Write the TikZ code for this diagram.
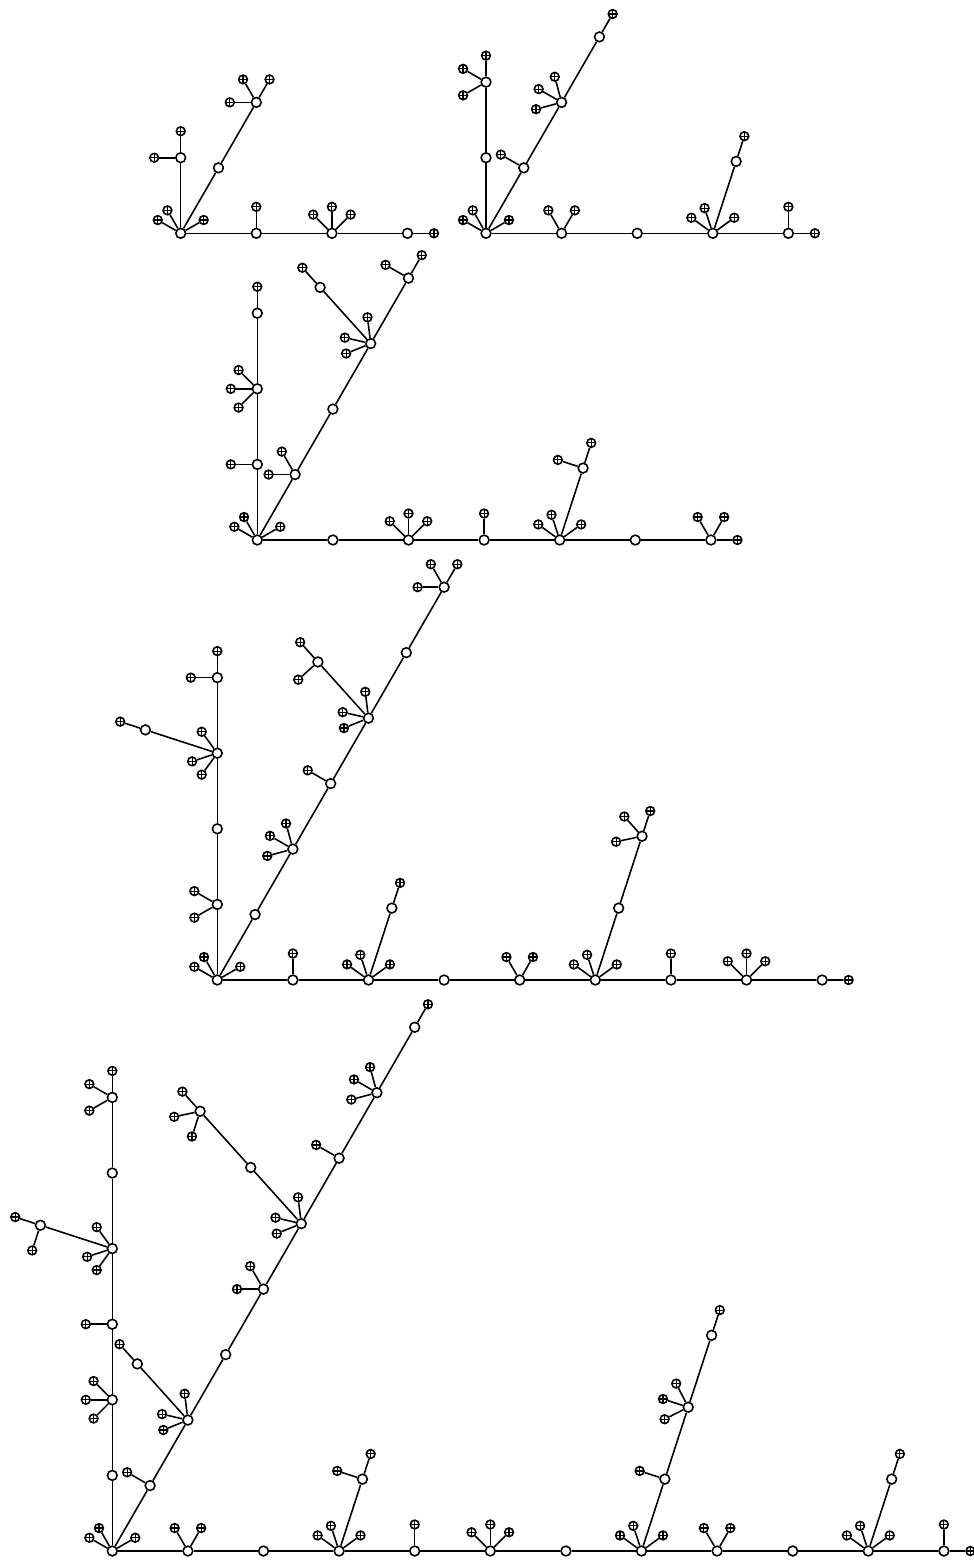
\documentclass[tikz,border=0pt]{standalone}
\usetikzlibrary{calc}
\newcommand{\armlen}{75.6}
\newcommand{\tiplen}{26.5}

\begin{document}
\begin{tikzpicture}[
  x=0.02cm,y=0.02cm,line width=0.9pt,
  knot/.style={circle,draw,fill=white,inner sep=0pt,minimum size=0.195cm},
  tip/.style={circle,draw,fill=white,inner sep=0pt,minimum size=0.175cm,
    path picture={\draw[line width=0.65pt] (path picture bounding box.north) -- (path picture bounding box.south)
      (path picture bounding box.west) -- (path picture bounding box.east);}},
]
\useasboundingbox (0,0) rectangle (974,-1560);

% tree a
\node[knot] (a0) at (180.7,-233.3) {};
\node[knot] (ah1) at ($(a0)+(0:\armlen)$) {} edge (a0);
\node[knot] (ah2) at ($(ah1)+(0:\armlen)$) {} edge (ah1);
\node[knot] (ah3) at ($(ah2)+(0:\armlen)$) {} edge (ah2);
\node[knot] (av1) at ($(a0)+(90:\armlen)$) {} edge (a0);
\node[knot] (ad1) at ($(a0)+(60:\armlen)$) {} edge (a0);
\node[knot] (ad2) at ($(ad1)+(60:\armlen)$) {} edge (ad1);
\foreach \a in {150,120,30} \node[tip] (a0-\a) at ($(a0)+(\a:\tiplen)$) {} edge (a0);
\foreach \a in {90} \node[tip] (ah1-\a) at ($(ah1)+(\a:\tiplen)$) {} edge (ah1);
\foreach \a in {135,90,45} \node[tip] (ah2-\a) at ($(ah2)+(\a:\tiplen)$) {} edge (ah2);
\foreach \a in {0} \node[tip] (ah3-\a) at ($(ah3)+(\a:\tiplen)$) {} edge (ah3);
\foreach \a in {180,90} \node[tip] (av1-\a) at ($(av1)+(\a:\tiplen)$) {} edge (av1);
\foreach \a in {180,120,60} \node[tip] (ad2-\a) at ($(ad2)+(\a:\tiplen)$) {} edge (ad2);

% tree b
\node[knot] (b0) at (486,-233.3) {};
\node[knot] (bh1) at ($(b0)+(0:\armlen)$) {} edge (b0);
\node[knot] (bh2) at ($(bh1)+(0:\armlen)$) {} edge (bh1);
\node[knot] (bh3) at ($(bh2)+(0:\armlen)$) {} edge (bh2);
\node[knot] (bb1) at ($(bh3)+(72:\armlen)$) {} edge (bh3);
\node[knot] (bh4) at ($(bh3)+(0:\armlen)$) {} edge (bh3);
\node[knot] (bv1) at ($(b0)+(90:\armlen)$) {} edge (b0);
\node[knot] (bv2) at ($(bv1)+(90:\armlen)$) {} edge (bv1);
\node[knot] (bd1) at ($(b0)+(60:\armlen)$) {} edge (b0);
\node[knot] (bd2) at ($(bd1)+(60:\armlen)$) {} edge (bd1);
\node[knot] (bd3) at ($(bd2)+(60:\armlen)$) {} edge (bd2);
\foreach \a in {150,120,30} \node[tip] (b0-\a) at ($(b0)+(\a:\tiplen)$) {} edge (b0);
\foreach \a in {120,60} \node[tip] (bh1-\a) at ($(bh1)+(\a:\tiplen)$) {} edge (bh1);
\foreach \a in {144,108,36} \node[tip] (bh3-\a) at ($(bh3)+(\a:\tiplen)$) {} edge (bh3);
\foreach \a in {72} \node[tip] (bb1-\a) at ($(bb1)+(\a:\tiplen)$) {} edge (bb1);
\foreach \a in {90,0} \node[tip] (bh4-\a) at ($(bh4)+(\a:\tiplen)$) {} edge (bh4);
\foreach \a in {210,150,90} \node[tip] (bv2-\a) at ($(bv2)+(\a:\tiplen)$) {} edge (bv2);
\foreach \a in {150} \node[tip] (bd1-\a) at ($(bd1)+(\a:\tiplen)$) {} edge (bd1);
\foreach \a in {195,150,105} \node[tip] (bd2-\a) at ($(bd2)+(\a:\tiplen)$) {} edge (bd2);
\foreach \a in {60} \node[tip] (bd3-\a) at ($(bd3)+(\a:\tiplen)$) {} edge (bd3);

% tree c
\node[knot] (c0) at (257.3,-540) {};
\node[knot] (ch1) at ($(c0)+(0:\armlen)$) {} edge (c0);
\node[knot] (ch2) at ($(ch1)+(0:\armlen)$) {} edge (ch1);
\node[knot] (ch3) at ($(ch2)+(0:\armlen)$) {} edge (ch2);
\node[knot] (ch4) at ($(ch3)+(0:\armlen)$) {} edge (ch3);
\node[knot] (cb1) at ($(ch4)+(72:\armlen)$) {} edge (ch4);
\node[knot] (ch5) at ($(ch4)+(0:\armlen)$) {} edge (ch4);
\node[knot] (ch6) at ($(ch5)+(0:\armlen)$) {} edge (ch5);
\node[knot] (cv1) at ($(c0)+(90:\armlen)$) {} edge (c0);
\node[knot] (cv2) at ($(cv1)+(90:\armlen)$) {} edge (cv1);
\node[knot] (cv3) at ($(cv2)+(90:\armlen)$) {} edge (cv2);
\node[knot] (cd1) at ($(c0)+(60:\armlen)$) {} edge (c0);
\node[knot] (cd2) at ($(cd1)+(60:\armlen)$) {} edge (cd1);
\node[knot] (cd3) at ($(cd2)+(60:\armlen)$) {} edge (cd2);
\node[knot] (ce1) at ($(cd3)+(132:\armlen)$) {} edge (cd3);
\node[knot] (cd4) at ($(cd3)+(60:\armlen)$) {} edge (cd3);
\foreach \a in {150,120,30} \node[tip] (c0-\a) at ($(c0)+(\a:\tiplen)$) {} edge (c0);
\foreach \a in {135,90,45} \node[tip] (ch2-\a) at ($(ch2)+(\a:\tiplen)$) {} edge (ch2);
\foreach \a in {90} \node[tip] (ch3-\a) at ($(ch3)+(\a:\tiplen)$) {} edge (ch3);
\foreach \a in {144,108,36} \node[tip] (ch4-\a) at ($(ch4)+(\a:\tiplen)$) {} edge (ch4);
\foreach \a in {162,72} \node[tip] (cb1-\a) at ($(cb1)+(\a:\tiplen)$) {} edge (cb1);
\foreach \a in {120,60,0} \node[tip] (ch6-\a) at ($(ch6)+(\a:\tiplen)$) {} edge (ch6);
\foreach \a in {180} \node[tip] (cv1-\a) at ($(cv1)+(\a:\tiplen)$) {} edge (cv1);
\foreach \a in {225,180,135} \node[tip] (cv2-\a) at ($(cv2)+(\a:\tiplen)$) {} edge (cv2);
\foreach \a in {90} \node[tip] (cv3-\a) at ($(cv3)+(\a:\tiplen)$) {} edge (cv3);
\foreach \a in {180,120} \node[tip] (cd1-\a) at ($(cd1)+(\a:\tiplen)$) {} edge (cd1);
\foreach \a in {202,167,97} \node[tip] (cd3-\a) at ($(cd3)+(\a:\tiplen)$) {} edge (cd3);
\foreach \a in {132} \node[tip] (ce1-\a) at ($(ce1)+(\a:\tiplen)$) {} edge (ce1);
\foreach \a in {150,60} \node[tip] (cd4-\a) at ($(cd4)+(\a:\tiplen)$) {} edge (cd4);

% tree d
\node[knot] (d0) at (217.3,-980) {};
\node[knot] (dh1) at ($(d0)+(0:\armlen)$) {} edge (d0);
\node[knot] (dh2) at ($(dh1)+(0:\armlen)$) {} edge (dh1);
\node[knot] (db1) at ($(dh2)+(72:\armlen)$) {} edge (dh2);
\node[knot] (dh3) at ($(dh2)+(0:\armlen)$) {} edge (dh2);
\node[knot] (dh4) at ($(dh3)+(0:\armlen)$) {} edge (dh3);
\node[knot] (dh5) at ($(dh4)+(0:\armlen)$) {} edge (dh4);
\node[knot] (de1) at ($(dh5)+(72:\armlen)$) {} edge (dh5);
\node[knot] (de2) at ($(de1)+(72:\armlen)$) {} edge (de1);
\node[knot] (dh6) at ($(dh5)+(0:\armlen)$) {} edge (dh5);
\node[knot] (dh7) at ($(dh6)+(0:\armlen)$) {} edge (dh6);
\node[knot] (dh8) at ($(dh7)+(0:\armlen)$) {} edge (dh7);
\node[knot] (dv1) at ($(d0)+(90:\armlen)$) {} edge (d0);
\node[knot] (dv2) at ($(dv1)+(90:\armlen)$) {} edge (dv1);
\node[knot] (dv3) at ($(dv2)+(90:\armlen)$) {} edge (dv2);
\node[knot] (df1) at ($(dv3)+(162:\armlen)$) {} edge (dv3);
\node[knot] (dv4) at ($(dv3)+(90:\armlen)$) {} edge (dv3);
\node[knot] (dd1) at ($(d0)+(60:\armlen)$) {} edge (d0);
\node[knot] (dd2) at ($(dd1)+(60:\armlen)$) {} edge (dd1);
\node[knot] (dd3) at ($(dd2)+(60:\armlen)$) {} edge (dd2);
\node[knot] (dd4) at ($(dd3)+(60:\armlen)$) {} edge (dd3);
\node[knot] (dg1) at ($(dd4)+(132:\armlen)$) {} edge (dd4);
\node[knot] (dd5) at ($(dd4)+(60:\armlen)$) {} edge (dd4);
\node[knot] (dd6) at ($(dd5)+(60:\armlen)$) {} edge (dd5);
\foreach \a in {150,120,30} \node[tip] (d0-\a) at ($(d0)+(\a:\tiplen)$) {} edge (d0);
\foreach \a in {90} \node[tip] (dh1-\a) at ($(dh1)+(\a:\tiplen)$) {} edge (dh1);
\foreach \a in {144,108,36} \node[tip] (dh2-\a) at ($(dh2)+(\a:\tiplen)$) {} edge (dh2);
\foreach \a in {72} \node[tip] (db1-\a) at ($(db1)+(\a:\tiplen)$) {} edge (db1);
\foreach \a in {120,60} \node[tip] (dh4-\a) at ($(dh4)+(\a:\tiplen)$) {} edge (dh4);
\foreach \a in {144,108,36} \node[tip] (dh5-\a) at ($(dh5)+(\a:\tiplen)$) {} edge (dh5);
\foreach \a in {192,132,72} \node[tip] (de2-\a) at ($(de2)+(\a:\tiplen)$) {} edge (de2);
\foreach \a in {90} \node[tip] (dh6-\a) at ($(dh6)+(\a:\tiplen)$) {} edge (dh6);
\foreach \a in {135,90,45} \node[tip] (dh7-\a) at ($(dh7)+(\a:\tiplen)$) {} edge (dh7);
\foreach \a in {0} \node[tip] (dh8-\a) at ($(dh8)+(\a:\tiplen)$) {} edge (dh8);
\foreach \a in {210,150} \node[tip] (dv1-\a) at ($(dv1)+(\a:\tiplen)$) {} edge (dv1);
\foreach \a in {234,198,126} \node[tip] (dv3-\a) at ($(dv3)+(\a:\tiplen)$) {} edge (dv3);
\foreach \a in {162} \node[tip] (df1-\a) at ($(df1)+(\a:\tiplen)$) {} edge (df1);
\foreach \a in {180,90} \node[tip] (dv4-\a) at ($(dv4)+(\a:\tiplen)$) {} edge (dv4);
\foreach \a in {195,150,105} \node[tip] (dd2-\a) at ($(dd2)+(\a:\tiplen)$) {} edge (dd2);
\foreach \a in {150} \node[tip] (dd3-\a) at ($(dd3)+(\a:\tiplen)$) {} edge (dd3);
\foreach \a in {202,167,97} \node[tip] (dd4-\a) at ($(dd4)+(\a:\tiplen)$) {} edge (dd4);
\foreach \a in {222,132} \node[tip] (dg1-\a) at ($(dg1)+(\a:\tiplen)$) {} edge (dg1);
\foreach \a in {180,120,60} \node[tip] (dd6-\a) at ($(dd6)+(\a:\tiplen)$) {} edge (dd6);

% tree e
\node[knot] (e0) at (112.3,-1551) {};
\node[knot] (eh1) at ($(e0)+(0:\armlen)$) {} edge (e0);
\node[knot] (eh2) at ($(eh1)+(0:\armlen)$) {} edge (eh1);
\node[knot] (eh3) at ($(eh2)+(0:\armlen)$) {} edge (eh2);
\node[knot] (ea1) at ($(eh3)+(72:\armlen)$) {} edge (eh3);
\node[knot] (eh4) at ($(eh3)+(0:\armlen)$) {} edge (eh3);
\node[knot] (eh5) at ($(eh4)+(0:\armlen)$) {} edge (eh4);
\node[knot] (eh6) at ($(eh5)+(0:\armlen)$) {} edge (eh5);
\node[knot] (eh7) at ($(eh6)+(0:\armlen)$) {} edge (eh6);
\node[knot] (eb1) at ($(eh7)+(72:\armlen)$) {} edge (eh7);
\node[knot] (eb2) at ($(eb1)+(72:\armlen)$) {} edge (eb1);
\node[knot] (eb3) at ($(eb2)+(72:\armlen)$) {} edge (eb2);
\node[knot] (eh8) at ($(eh7)+(0:\armlen)$) {} edge (eh7);
\node[knot] (eh9) at ($(eh8)+(0:\armlen)$) {} edge (eh8);
\node[knot] (eh10) at ($(eh9)+(0:\armlen)$) {} edge (eh9);
\node[knot] (ec1) at ($(eh10)+(72:\armlen)$) {} edge (eh10);
\node[knot] (eh11) at ($(eh10)+(0:\armlen)$) {} edge (eh10);
\node[knot] (ev1) at ($(e0)+(90:\armlen)$) {} edge (e0);
\node[knot] (ev2) at ($(ev1)+(90:\armlen)$) {} edge (ev1);
\node[knot] (ev3) at ($(ev2)+(90:\armlen)$) {} edge (ev2);
\node[knot] (ev4) at ($(ev3)+(90:\armlen)$) {} edge (ev3);
\node[knot] (ef1) at ($(ev4)+(162:\armlen)$) {} edge (ev4);
\node[knot] (ev5) at ($(ev4)+(90:\armlen)$) {} edge (ev4);
\node[knot] (ev6) at ($(ev5)+(90:\armlen)$) {} edge (ev5);
\node[knot] (ed1) at ($(e0)+(60:\armlen)$) {} edge (e0);
\node[knot] (ed2) at ($(ed1)+(60:\armlen)$) {} edge (ed1);
\node[knot] (eg1) at ($(ed2)+(132:\armlen)$) {} edge (ed2);
\node[knot] (ed3) at ($(ed2)+(60:\armlen)$) {} edge (ed2);
\node[knot] (ed4) at ($(ed3)+(60:\armlen)$) {} edge (ed3);
\node[knot] (ed5) at ($(ed4)+(60:\armlen)$) {} edge (ed4);
\node[knot] (ek1) at ($(ed5)+(132:\armlen)$) {} edge (ed5);
\node[knot] (ek2) at ($(ek1)+(132:\armlen)$) {} edge (ek1);
\node[knot] (ed6) at ($(ed5)+(60:\armlen)$) {} edge (ed5);
\node[knot] (ed7) at ($(ed6)+(60:\armlen)$) {} edge (ed6);
\node[knot] (ed8) at ($(ed7)+(60:\armlen)$) {} edge (ed7);
\foreach \a in {150,120,30} \node[tip] (e0-\a) at ($(e0)+(\a:\tiplen)$) {} edge (e0);
\foreach \a in {120,60} \node[tip] (eh1-\a) at ($(eh1)+(\a:\tiplen)$) {} edge (eh1);
\foreach \a in {144,108,36} \node[tip] (eh3-\a) at ($(eh3)+(\a:\tiplen)$) {} edge (eh3);
\foreach \a in {162,72} \node[tip] (ea1-\a) at ($(ea1)+(\a:\tiplen)$) {} edge (ea1);
\foreach \a in {90} \node[tip] (eh4-\a) at ($(eh4)+(\a:\tiplen)$) {} edge (eh4);
\foreach \a in {135,90,45} \node[tip] (eh5-\a) at ($(eh5)+(\a:\tiplen)$) {} edge (eh5);
\foreach \a in {144,108,36} \node[tip] (eh7-\a) at ($(eh7)+(\a:\tiplen)$) {} edge (eh7);
\foreach \a in {162} \node[tip] (eb1-\a) at ($(eb1)+(\a:\tiplen)$) {} edge (eb1);
\foreach \a in {207,162,117} \node[tip] (eb2-\a) at ($(eb2)+(\a:\tiplen)$) {} edge (eb2);
\foreach \a in {72} \node[tip] (eb3-\a) at ($(eb3)+(\a:\tiplen)$) {} edge (eb3);
\foreach \a in {120,60} \node[tip] (eh8-\a) at ($(eh8)+(\a:\tiplen)$) {} edge (eh8);
\foreach \a in {144,108,36} \node[tip] (eh10-\a) at ($(eh10)+(\a:\tiplen)$) {} edge (eh10);
\foreach \a in {72} \node[tip] (ec1-\a) at ($(ec1)+(\a:\tiplen)$) {} edge (ec1);
\foreach \a in {90,0} \node[tip] (eh11-\a) at ($(eh11)+(\a:\tiplen)$) {} edge (eh11);
\foreach \a in {225,180,135} \node[tip] (ev2-\a) at ($(ev2)+(\a:\tiplen)$) {} edge (ev2);
\foreach \a in {180} \node[tip] (ev3-\a) at ($(ev3)+(\a:\tiplen)$) {} edge (ev3);
\foreach \a in {234,198,126} \node[tip] (ev4-\a) at ($(ev4)+(\a:\tiplen)$) {} edge (ev4);
\foreach \a in {252,162} \node[tip] (ef1-\a) at ($(ef1)+(\a:\tiplen)$) {} edge (ef1);
\foreach \a in {210,150,90} \node[tip] (ev6-\a) at ($(ev6)+(\a:\tiplen)$) {} edge (ev6);
\foreach \a in {150} \node[tip] (ed1-\a) at ($(ed1)+(\a:\tiplen)$) {} edge (ed1);
\foreach \a in {202,167,97} \node[tip] (ed2-\a) at ($(ed2)+(\a:\tiplen)$) {} edge (ed2);
\foreach \a in {132} \node[tip] (eg1-\a) at ($(eg1)+(\a:\tiplen)$) {} edge (eg1);
\foreach \a in {180,120} \node[tip] (ed4-\a) at ($(ed4)+(\a:\tiplen)$) {} edge (ed4);
\foreach \a in {202,167,97} \node[tip] (ed5-\a) at ($(ed5)+(\a:\tiplen)$) {} edge (ed5);
\foreach \a in {252,192,132} \node[tip] (ek2-\a) at ($(ek2)+(\a:\tiplen)$) {} edge (ek2);
\foreach \a in {150} \node[tip] (ed6-\a) at ($(ed6)+(\a:\tiplen)$) {} edge (ed6);
\foreach \a in {195,150,105} \node[tip] (ed7-\a) at ($(ed7)+(\a:\tiplen)$) {} edge (ed7);
\foreach \a in {60} \node[tip] (ed8-\a) at ($(ed8)+(\a:\tiplen)$) {} edge (ed8);
\end{tikzpicture}
\end{document}
